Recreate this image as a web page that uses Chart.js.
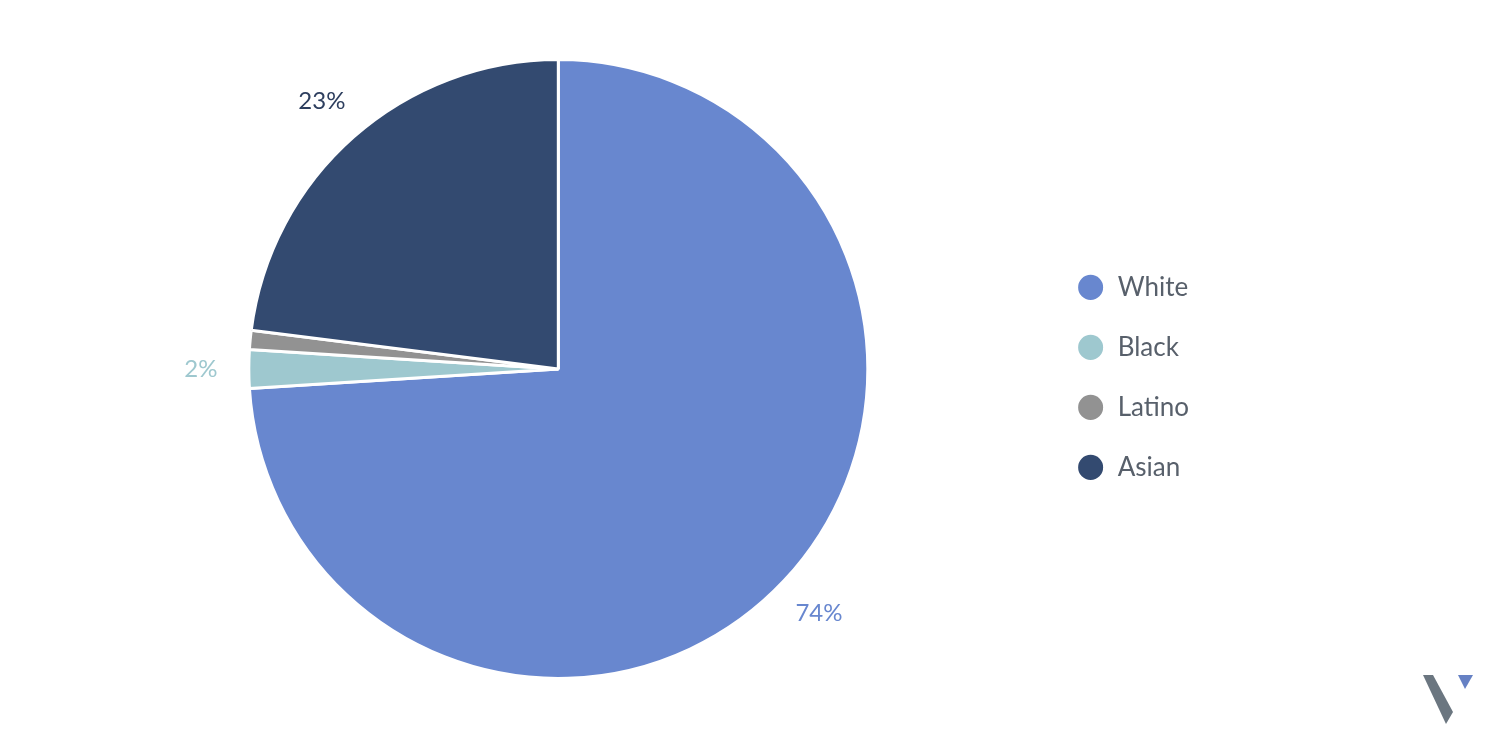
<!DOCTYPE html>
<html>
<head>
<meta charset="utf-8">
<script src="https://cdn.jsdelivr.net/npm/chart.js@4/dist/chart.umd.min.js"></script>
<style>
    html, body { margin: 0; padding: 0; background: #fff; }
    #wrap { position: relative; width: 1500px; height: 750px; }
</style>
</head>
<body>
<div id="wrap"><canvas id="chart-pie" width="1500" height="750"></canvas></div>
<script>
// ─── Data ─────────────────────────────────────────────────────────────────────
const GROUPS = ["White", "Black", "Latino", "Asian"];
const SHARES = [74, 2, 1, 23];
const COLORS = ["#6887cf", "#9ec8cf", "#929292", "#334a70"];
const LABEL_COLORS = ["#6887cf", "#9ec8cf", "#929292", "#2d3e5e"];
const MIN_LABEL_SHARE = 2;

const FONT = "Lato, 'Noto Sans', sans-serif";

// ─── Plugins ──────────────────────────────────────────────────────────────────
// percent labels outside each slice, along its mid angle
const outsideLabels = {
    id: "outsideLabels",
    afterDatasetsDraw(chart) {
        const { ctx } = chart;
        const meta = chart.getDatasetMeta(0);
        ctx.save();
        ctx.font = "24px " + FONT;
        ctx.textAlign = "center";
        ctx.textBaseline = "middle";
        meta.data.forEach((arc, i) => {
            const v = SHARES[i];
            if (v < MIN_LABEL_SHARE) return;
            const mid = (arc.startAngle + arc.endAngle) / 2;
            const d = arc.outerRadius + 48;
            ctx.fillStyle = LABEL_COLORS[i];
            ctx.fillText(v + "%", arc.x + Math.cos(mid) * d, arc.y + Math.sin(mid) * d);
        });
        ctx.restore();
    },
};

// small brand mark bottom right
const brandMark = {
    id: "brandMark",
    afterDraw(chart) {
        const { ctx } = chart;
        ctx.save();
        ctx.fillStyle = "#6b7680";
        ctx.beginPath();
        ctx.moveTo(1423, 675);
        ctx.lineTo(1433, 675);
        ctx.lineTo(1453, 712);
        ctx.lineTo(1446, 724);
        ctx.closePath();
        ctx.fill();
        ctx.fillStyle = "#6681c4";
        ctx.beginPath();
        ctx.moveTo(1458, 675);
        ctx.lineTo(1473, 675);
        ctx.lineTo(1465, 689);
        ctx.closePath();
        ctx.fill();
        ctx.restore();
    },
};

// ─── Chart ────────────────────────────────────────────────────────────────────
new Chart(document.getElementById("chart-pie"), {
    type: "pie",
    data: {
        labels: GROUPS,
        datasets: [{
            data: SHARES,
            backgroundColor: COLORS,
            borderColor: "#ffffff",
            borderWidth: 3,
        }],
    },
    options: {
        responsive: false,
        animation: false,
        layout: { padding: { top: 58, bottom: 70, left: 74, right: 301 } },
        plugins: {
            legend: {
                position: "right",
                // blank title only nudges the items down a little
                title: { display: true, text: " ", padding: 0, font: { size: 14 } },
                labels: {
                    usePointStyle: true,
                    pointStyle: "circle",
                    boxHeight: 20,
                    pointStyleWidth: 28,
                    padding: 34,
                    color: "#58606b",
                    font: { family: FONT, size: 26 },
                },
            },
            tooltip: { enabled: false },
        },
    },
    plugins: [outsideLabels, brandMark],
});
</script>
</body>
</html>
